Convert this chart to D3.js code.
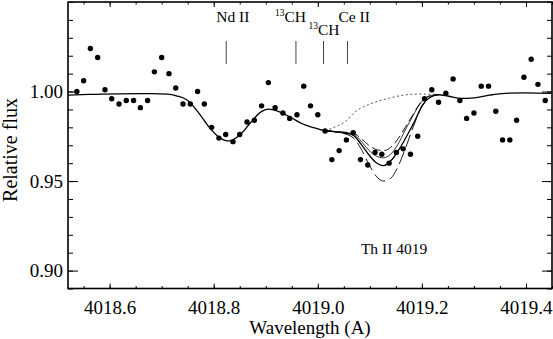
<!DOCTYPE html>
<html>
<head>
<meta charset="utf-8">
<script src="https://cdn.jsdelivr.net/npm/d3@7"></script>
<style>
  body { margin: 0; background: #fff; }
  svg { display: block; }
  svg text { font-family: "Liberation Serif", "Times New Roman", serif; }
</style>
</head>
<body>
<div id="chart"></div>
<script>
// observed spectrum (points)
var obsWave = [4018.537, 4018.550, 4018.563, 4018.577, 4018.591, 4018.604, 4018.618, 4018.632,
  4018.646, 4018.659, 4018.673, 4018.686, 4018.700, 4018.714, 4018.727, 4018.741, 4018.755,
  4018.769, 4018.782, 4018.796, 4018.810, 4018.823, 4018.837, 4018.850, 4018.864, 4018.878,
  4018.892, 4018.905, 4018.918, 4018.933, 4018.946, 4018.960, 4018.973, 4018.986, 4019.000,
  4019.014, 4019.027, 4019.041, 4019.055, 4019.068, 4019.082, 4019.096, 4019.110, 4019.123,
  4019.137, 4019.151, 4019.164, 4019.178, 4019.192, 4019.205, 4019.219, 4019.232, 4019.246,
  4019.260, 4019.273, 4019.286, 4019.300, 4019.314, 4019.328, 4019.342, 4019.355, 4019.369,
  4019.382, 4019.396, 4019.410, 4019.423, 4019.437];
var obsFlux = [1.000, 1.006, 1.024, 1.019, 1.001, 0.996, 0.993, 0.995,
  0.995, 0.991, 0.995, 1.011, 1.019, 1.010, 1.002, 0.993, 0.993,
  1.000, 0.993, 0.980, 0.974, 0.976, 0.972, 0.976, 0.983, 0.984,
  0.992, 1.005, 0.991, 0.988, 0.985, 0.987, 1.003, 0.992, 0.987,
  0.978, 0.962, 0.967, 0.973, 0.977, 0.962, 0.959, 0.966, 0.965,
  0.960, 0.966, 0.968, 0.965, 0.975, 0.996, 1.001, 0.994, 0.999,
  1.007, 0.995, 0.985, 0.988, 1.003, 1.003, 0.989, 0.973, 0.973,
  0.984, 1.008, 1.018, 1.004, 0.995];

// synthetic spectrum, best fit (full range)
var bestWave = [4018.52, 4018.56, 4018.62, 4018.68, 4018.71, 4018.73, 4018.75, 4018.77,
  4018.79, 4018.81, 4018.83, 4018.85, 4018.87, 4018.89, 4018.905, 4018.925, 4018.95, 4018.97,
  4018.99, 4019.014, 4019.033, 4019.052, 4019.068, 4019.082, 4019.096, 4019.110, 4019.126,
  4019.145, 4019.158, 4019.172, 4019.187, 4019.202, 4019.216, 4019.232, 4019.25, 4019.275,
  4019.30, 4019.33, 4019.36, 4019.40, 4019.45];
var bestFlux = [0.9980, 0.9984, 0.9987, 0.9988, 0.9986, 0.9975, 0.9950, 0.9885,
  0.9805, 0.9745, 0.9724, 0.9757, 0.9823, 0.9885, 0.9902, 0.9888, 0.9852, 0.9820,
  0.9800, 0.9781, 0.9775, 0.9768, 0.9757, 0.9710, 0.9655, 0.9608, 0.9586,
  0.9629, 0.9685, 0.9757, 0.9840, 0.9928, 0.9968, 0.9982, 0.9975, 0.9962,
  0.9965, 0.9980, 0.9990, 0.9993, 0.9990];

// Th region variants
var thWave = [4019.014, 4019.040, 4019.068, 4019.084, 4019.098, 4019.112, 4019.126,
  4019.140, 4019.154, 4019.168, 4019.183, 4019.198, 4019.214, 4019.232];
var thShallowFlux = [0.9781, 0.9775, 0.9768, 0.9735, 0.9700, 0.9676, 0.9670,
  0.9688, 0.9735, 0.9800, 0.9872, 0.9940, 0.9975, 0.9983];
var thMidFlux = [0.9781, 0.9775, 0.9764, 0.9720, 0.9672, 0.9640, 0.9630,
  0.9650, 0.9705, 0.9785, 0.9865, 0.9938, 0.9973, 0.9983];
var thDeepFlux = [0.9781, 0.9772, 0.9742, 0.9675, 0.9595, 0.9528, 0.9500,
  0.9515, 0.9580, 0.9680, 0.9800, 0.9905, 0.9963, 0.9983];
var noThWave = [4019.014, 4019.036, 4019.052, 4019.072, 4019.104, 4019.136, 4019.168,
  4019.200, 4019.232];
var noThFlux = [0.9781, 0.9806, 0.9831, 0.9887, 0.9934, 0.9962, 0.9981, 0.9986, 0.9983];

// line identifications
var lineWave = [4018.824, 4018.958, 4019.011, 4019.057];
var lineName = ["Nd II", "CH", "CH", "Ce II"];
var lineIso = ["", "13", "13", ""];

var xTicks = [4018.6, 4018.8, 4019.0, 4019.2, 4019.4];
var yTicks = [0.90, 0.95, 1.00];

var W = 553, H = 339;
var margin = {top: 2, right: 1, bottom: 50.5, left: 68};
var width = W - margin.left - margin.right;
var height = H - margin.top - margin.bottom;
var serif = '"Liberation Serif", "Times New Roman", serif';

var svg = d3.select('#chart').append('svg')
    .attr('width', W)
    .attr('height', H)
    .attr('font-family', serif);
var g = svg.append('g')
    .attr('transform', 'translate(' + margin.left + ',' + margin.top + ')');

var x = d3.scaleLinear().domain([4018.52, 4019.45]).range([0, width]);
var y = d3.scaleLinear().domain([0.89, 1.05]).range([height, 0]);

function pairs(ws, fs) { return ws.map(function (w, i) { return [w, fs[i]]; }); }

var line = d3.line()
    .x(function (d) { return x(d[0]); })
    .y(function (d) { return y(d[1]); })
    .curve(d3.curveMonotoneX);

// axes: ticks pointing inward on all four sides
function styleAxis(sel) {
    sel.attr('font-family', serif);
    sel.selectAll('.domain').remove();
    sel.selectAll('line').attr('stroke', '#000').attr('stroke-width', 1);
    sel.selectAll('text').attr('font-size', '19px').attr('fill', '#000')
        .attr('font-family', serif);
}
var xMinor = d3.range(4018.55, 4019.451, 0.05);
var yMinor = d3.range(0.89, 1.0501, 0.01);

g.append('g').attr('transform', 'translate(0,' + height + ')')
    .call(d3.axisBottom(x).tickValues(xMinor).tickSize(-2.5).tickFormat(''))
    .call(styleAxis);
g.append('g').attr('transform', 'translate(0,' + height + ')')
    .call(d3.axisBottom(x).tickValues(xTicks).tickSize(-5).tickPadding(12).tickFormat(d3.format('.1f')))
    .call(styleAxis);
g.append('g')
    .call(d3.axisTop(x).tickValues(xMinor).tickSize(-2.5).tickFormat(''))
    .call(styleAxis);
g.append('g')
    .call(d3.axisTop(x).tickValues(xTicks).tickSize(-5).tickFormat(''))
    .call(styleAxis);
g.append('g')
    .call(d3.axisLeft(y).tickValues(yMinor).tickSize(-5).tickFormat(''))
    .call(styleAxis);
g.append('g')
    .call(d3.axisLeft(y).tickValues(yTicks).tickSize(-10).tickPadding(5).tickFormat(d3.format('.2f')))
    .call(styleAxis);
g.append('g').attr('transform', 'translate(' + width + ',0)')
    .call(d3.axisRight(y).tickValues(yMinor).tickSize(-5).tickFormat(''))
    .call(styleAxis);
g.append('g').attr('transform', 'translate(' + width + ',0)')
    .call(d3.axisRight(y).tickValues(yTicks).tickSize(-10).tickFormat(''))
    .call(styleAxis);

g.append('rect')
    .attr('width', width).attr('height', height)
    .attr('fill', 'none').attr('stroke', '#000').attr('stroke-width', 1.6);

// synthetic spectra
g.append('path').datum(pairs(noThWave, noThFlux))
    .attr('d', line).attr('fill', 'none')
    .attr('stroke', '#555').attr('stroke-width', 1).attr('stroke-dasharray', '2,2.5');
g.append('path').datum(pairs(thWave, thShallowFlux))
    .attr('d', line).attr('fill', 'none')
    .attr('stroke', '#000').attr('stroke-width', 0.9).attr('stroke-dasharray', '9,4');
g.append('path').datum(pairs(thWave, thMidFlux))
    .attr('d', line).attr('fill', 'none')
    .attr('stroke', '#000').attr('stroke-width', 0.8);
g.append('path').datum(pairs(thWave, thDeepFlux))
    .attr('d', line).attr('fill', 'none')
    .attr('stroke', '#000').attr('stroke-width', 0.9).attr('stroke-dasharray', '13,5');
g.append('path').datum(pairs(bestWave, bestFlux))
    .attr('d', line).attr('fill', 'none')
    .attr('stroke', '#000').attr('stroke-width', 1.3);

// observed points
g.selectAll('.obs')
    .data(pairs(obsWave, obsFlux))
    .enter().append('circle')
    .attr('class', 'obs')
    .attr('cx', function (d) { return x(d[0]); })
    .attr('cy', function (d) { return y(d[1]); })
    .attr('r', 2.7)
    .attr('fill', '#000');

// line identification marks
var idOffset = [-10, -21, -15, -9];
var idBase = [20, 20, 33, 20];
lineWave.forEach(function (w, i) {
    g.append('line')
        .attr('x1', x(w)).attr('x2', x(w))
        .attr('y1', 39).attr('y2', 62)
        .attr('stroke', '#444').attr('stroke-width', 1);
    var t = g.append('text')
        .attr('x', x(w) + idOffset[i])
        .attr('y', idBase[i])
        .attr('font-family', serif)
        .attr('font-size', '15.5px');
    if (lineIso[i]) {
        t.append('tspan').attr('font-size', '9.5px').attr('dy', -6).text(lineIso[i]);
        t.append('tspan').attr('dy', 6).text(lineName[i]);
    } else {
        t.text(lineName[i]);
    }
});

g.append('text')
    .attr('x', x(4019.127) - 23)
    .attr('y', 252)
    .attr('font-family', serif)
    .attr('font-size', '15.5px')
    .text('Th II 4019');

// axis titles
svg.append('text')
    .attr('x', margin.left + width / 2)
    .attr('y', 334)
    .attr('text-anchor', 'middle')
    .attr('font-family', serif)
    .attr('font-size', '19px')
    .text('Wavelength (A)');
svg.append('text')
    .attr('transform', 'translate(17,150) rotate(-90)')
    .attr('text-anchor', 'middle')
    .attr('font-family', serif)
    .attr('font-size', '20px')
    .text('Relative flux');
</script>
</body>
</html>
